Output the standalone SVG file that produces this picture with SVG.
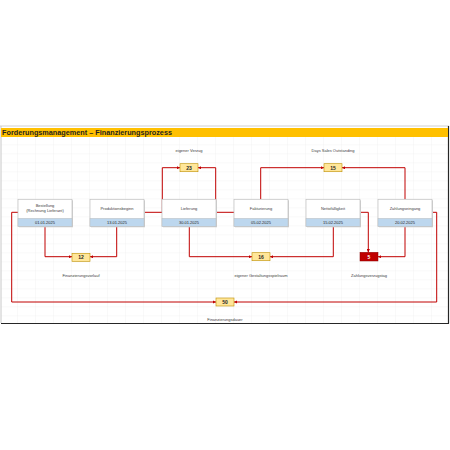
<svg xmlns="http://www.w3.org/2000/svg" width="450" height="450" viewBox="0 0 450 450">
<defs>
<pattern id="grid" x="0" y="136.3" width="18" height="9" patternUnits="userSpaceOnUse">
<path d="M18,0 V9 M0,9 H18" fill="none" stroke="#ebebeb" stroke-width="0.6"/>
</pattern>
<marker id="arr" viewBox="0 0 4 4" refX="4" refY="2" markerWidth="3.2" markerHeight="3.2" markerUnits="userSpaceOnUse" orient="auto">
<path d="M0,0 L4,2 L0,4 z" fill="#C00000"/>
</marker>
</defs>
<style>
.box{fill:#ffffff;stroke:#bfbfbf;stroke-width:0.7}
.shadow{fill:#d0d0d0}
.band{fill:#BDD7EE;stroke:#bfbfbf;stroke-width:0.5}
.t{font-family:"Liberation Sans",Arial,sans-serif;font-size:4px;fill:#404040;text-anchor:middle;dominant-baseline:central}
.d{font-family:"Liberation Sans",Arial,sans-serif;font-size:4px;fill:#262626;text-anchor:middle;dominant-baseline:central}
.v{fill:#FFE699;stroke:#BF9000;stroke-width:0.6}
.vt{font-family:"Liberation Sans",Arial,sans-serif;font-size:5px;font-weight:bold;fill:#262626;text-anchor:middle;dominant-baseline:central}
.lbl{font-family:"Liberation Sans",Arial,sans-serif;font-size:4px;fill:#404040;text-anchor:middle;dominant-baseline:central}
.c{fill:none;stroke:#C00000;stroke-width:1;marker-end:url(#arr)}
</style>
<rect x="0" y="0" width="450" height="450" fill="#ffffff"/>
<rect x="1" y="137" width="447" height="186" fill="url(#grid)"/>
<line x1="0" y1="126" x2="449" y2="126" stroke="#d0d0d0" stroke-width="1"/>
<line x1="1" y1="126" x2="1" y2="323" stroke="#c8c8c8" stroke-width="1"/>
<line x1="448.5" y1="126" x2="448.5" y2="323.5" stroke="#262626" stroke-width="1.2"/>
<line x1="1" y1="323.5" x2="449" y2="323.5" stroke="#262626" stroke-width="1.2"/>
<rect x="1" y="128" width="447" height="9" fill="#FFC000"/>
<text x="2" y="132.8" font-family="'Liberation Sans',Arial,sans-serif" font-size="8" font-weight="bold" fill="#1f1f1f" dominant-baseline="central" textLength="170" lengthAdjust="spacingAndGlyphs">Forderungsmanagement – Finanzierungsprozess</text>

<g id="connectors">
<path class="c" d="M45,226 V256.7 H72"/>
<path class="c" d="M116.7,226 V256.7 H90"/>
<path class="c" d="M144,212.3 H162.3 V167.7 H180"/>
<path class="c" d="M234,212.3 H215.7 V167.7 H198"/>
<path class="c" d="M189.3,226 V256.7 H252"/>
<path class="c" d="M333.3,226 V256.7 H270"/>
<path class="c" d="M260.7,199.3 V167.7 H324"/>
<path class="c" d="M405,199.3 V167.7 H342"/>
<path class="c" d="M359.3,212.3 H368.3 V252.3"/>
<path class="c" d="M405,226 V256.7 H378"/>
<path class="c" d="M18,212.3 H11.7 V302 H216"/>
<path class="c" d="M432,212.3 H436.7 V302 H234"/>
</g>

<g id="bestellung">
<rect class="shadow" x="19" y="200.3" width="54" height="27"/>
<rect class="box" x="18" y="199.3" width="54" height="27"/>
<rect class="band" x="18" y="218.3" width="54" height="8"/>
<text class="t" x="45" y="205">Bestellung</text>
<text class="t" x="45" y="210.5">(Rechnung Lieferant)</text>
<text class="d" x="45" y="222.3">01.01.2025</text>
</g>
<g id="produktionsbeginn">
<rect class="shadow" x="91" y="200.3" width="54" height="27"/>
<rect class="box" x="90" y="199.3" width="54" height="27"/>
<rect class="band" x="90" y="218.3" width="54" height="8"/>
<text class="t" x="117" y="208.3">Produktionsbeginn</text>
<text class="d" x="117" y="222.3">13.01.2025</text>
</g>
<g id="lieferung">
<rect class="shadow" x="163" y="200.3" width="54" height="27"/>
<rect class="box" x="162" y="199.3" width="54" height="27"/>
<rect class="band" x="162" y="218.3" width="54" height="8"/>
<text class="t" x="189" y="208.3">Lieferung</text>
<text class="d" x="189" y="222.3">30.01.2025</text>
</g>
<g id="fakturierung">
<rect class="shadow" x="235" y="200.3" width="54" height="27"/>
<rect class="box" x="234" y="199.3" width="54" height="27"/>
<rect class="band" x="234" y="218.3" width="54" height="8"/>
<text class="t" x="261" y="208.3">Fakturierung</text>
<text class="d" x="261" y="222.3">05.02.2025</text>
</g>
<g id="nettofaelligkeit">
<rect class="shadow" x="307" y="200.3" width="54" height="27"/>
<rect class="box" x="306" y="199.3" width="54" height="27"/>
<rect class="band" x="306" y="218.3" width="54" height="8"/>
<text class="t" x="333" y="208.3">Nettofälligkeit</text>
<text class="d" x="333" y="222.3">15.02.2025</text>
</g>
<g id="zahlungseingang">
<rect class="shadow" x="379" y="200.3" width="54" height="27"/>
<rect class="box" x="378" y="199.3" width="54" height="27"/>
<rect class="band" x="378" y="218.3" width="54" height="8"/>
<text class="t" x="405" y="208.3">Zahlungseingang</text>
<text class="d" x="405" y="222.3">20.02.2025</text>
</g>

<g id="v12">
<rect class="v" x="72" y="253.3" width="18" height="8"/>
<text class="vt" x="81" y="257.3">12</text>
</g>
<g id="v23">
<rect class="v" x="180" y="163.7" width="18" height="8"/>
<text class="vt" x="189" y="167.7">23</text>
</g>
<g id="v15">
<rect class="v" x="324" y="163.7" width="18" height="8"/>
<text class="vt" x="333" y="167.7">15</text>
</g>
<g id="v16">
<rect class="v" x="252" y="252.7" width="18" height="8"/>
<text class="vt" x="261" y="256.7">16</text>
</g>
<g id="v5">
<rect x="360" y="252.3" width="18" height="8.7" fill="#C00000" stroke="#8b0000" stroke-width="0.5"/>
<text class="vt" x="369" y="256.7" fill="#ffffff" style="fill:#ffffff">5</text>
</g>
<g id="v50">
<rect class="v" x="216" y="298" width="18" height="8"/>
<text class="vt" x="225" y="302">50</text>
</g>

<g id="labels">
<text class="lbl" x="189" y="150.3">eigener Verzug</text>
<text class="lbl" x="333" y="150.3">Days Sales Outstanding</text>
<text class="lbl" x="81" y="275.3">Finanzierungsvorlauf</text>
<text class="lbl" x="261" y="275.3">eigener Gestaltungsspielraum</text>
<text class="lbl" x="369" y="275.3">Zahlungsverzugstag</text>
<text class="lbl" x="225" y="319.5">Finanzierungsdauer</text>
</g>
</svg>
